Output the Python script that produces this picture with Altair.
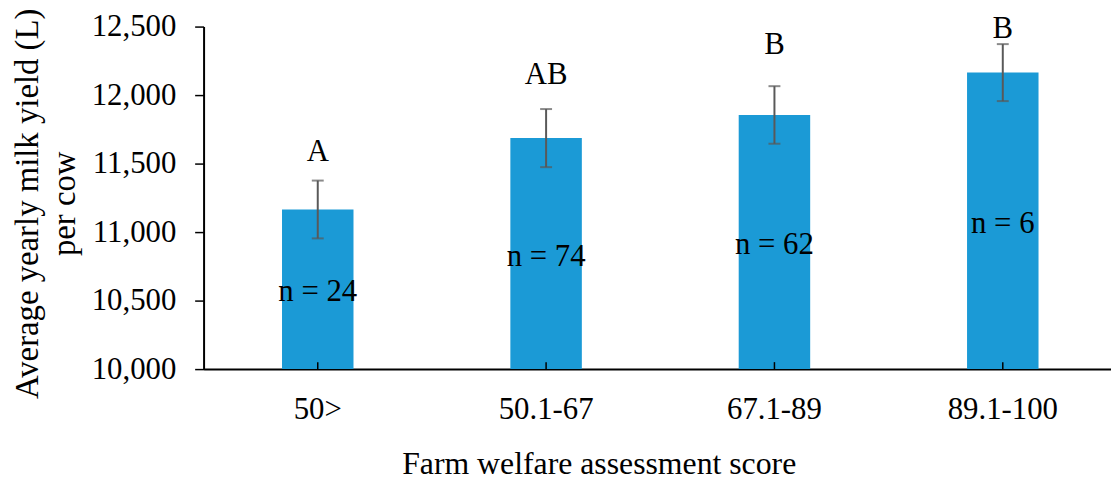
import altair as alt
import pandas as pd

categories = ["50>", "50.1-67", "67.1-89", "89.1-100"]
mean_yield = [11165, 11686, 11855, 12164]
std_err = [211, 212, 210, 208]
n_labels = ["n = 24", "n = 74", "n = 62", "n = 6"]
letters = ["A", "AB", "B", "B"]
letter_y = [11522, 12080, 12297, 12413]
y_ticks = [10000, 10500, 11000, 11500, 12000, 12500]
y_base = 10000

df = pd.DataFrame({
    "cat": categories,
    "val": mean_yield,
    "err": std_err,
    "nlab": n_labels,
    "letter": letters,
    "ly": letter_y,
})

FONT = "Liberation Serif"
BAR = "#1b9ad6"
ERR = "#595959"

xscale = alt.Scale(range=[0, 920], paddingInner=0, paddingOuter=0)
xaxis = alt.Axis(title="Farm welfare assessment score", labelAngle=0,
                 ticks=True, tickSize=0, labelPadding=50,
                 labelBaseline="alphabetic",
                 titleBaseline="alphabetic", titleX=398, titleY=105,
                 titleAlign="center", titleAnchor="start", titleFontSize=32,
                 domainColor="black", domainWidth=2)
yscale = alt.Scale(domain=[10000, 12500], nice=False, zero=False)
yaxis = alt.Axis(title=["Average yearly milk yield (L)", "per cow"],
                 values=y_ticks, format=",d", grid=False,
                 tickSize=9, tickColor="black", tickWidth=1.5,
                 domainColor="black", domainWidth=2,
                 labelPadding=19, titleAngle=-90,
                 titleBaseline="alphabetic", titleAlign="center",
                 titleAnchor="start", titleX=-167, titleY=178,
                 titleFontSize=33, titleLineHeight=37)


def X():
    return alt.X("cat:N", sort=categories, scale=xscale, axis=xaxis)


def Y(field):
    return alt.Y(field, scale=yscale, axis=yaxis)


base = alt.Chart(df)

bars = base.mark_bar(size=72, color=BAR).encode(
    x=X(), y=Y("val:Q"), y2=alt.datum(y_base)
)

err_calc = base.transform_calculate(
    lo="datum.val - datum.err", hi="datum.val + datum.err"
)

err_rule = err_calc.mark_rule(color=ERR, strokeWidth=2).encode(
    x=X(), y=Y("lo:Q"), y2="hi:Q"
)

cap_lo = err_calc.mark_tick(
    color=ERR, size=12, thickness=2, orient="horizontal"
).encode(x=X(), y=Y("lo:Q"))

cap_hi = err_calc.mark_tick(
    color=ERR, size=12, thickness=2, orient="horizontal"
).encode(x=X(), y=Y("hi:Q"))

n_text = base.transform_calculate(mid=f"(datum.val + {y_base}) / 2").mark_text(
    font=FONT, fontSize=31, color="black", baseline="middle", dy=3
).encode(x=X(), y=Y("mid:Q"), text="nlab:N")

letter_text = base.mark_text(
    font=FONT, fontSize=31, color="black", baseline="alphabetic"
).encode(x=X(), y=Y("ly:Q"), text="letter:N")

inner_ticks = base.mark_rule(color="black", strokeWidth=1.5).encode(
    x=X(), y=alt.value(345), y2=alt.value(338)
)

chart = alt.layer(bars, err_rule, cap_lo, cap_hi, n_text, letter_text, inner_ticks).properties(
    width=914,
    height=345,
    autosize=alt.AutoSizeParams(type="none"),
    padding={"left": 197, "top": 17, "right": 0, "bottom": 110},
).configure_view(stroke=None).configure_axis(
    labelFont=FONT, labelFontSize=31, labelColor="black",
    titleFont=FONT, titleColor="black", titleFontWeight="normal",
)

chart.save("out.html", embed_options={"renderer": "svg", "actions": False})
